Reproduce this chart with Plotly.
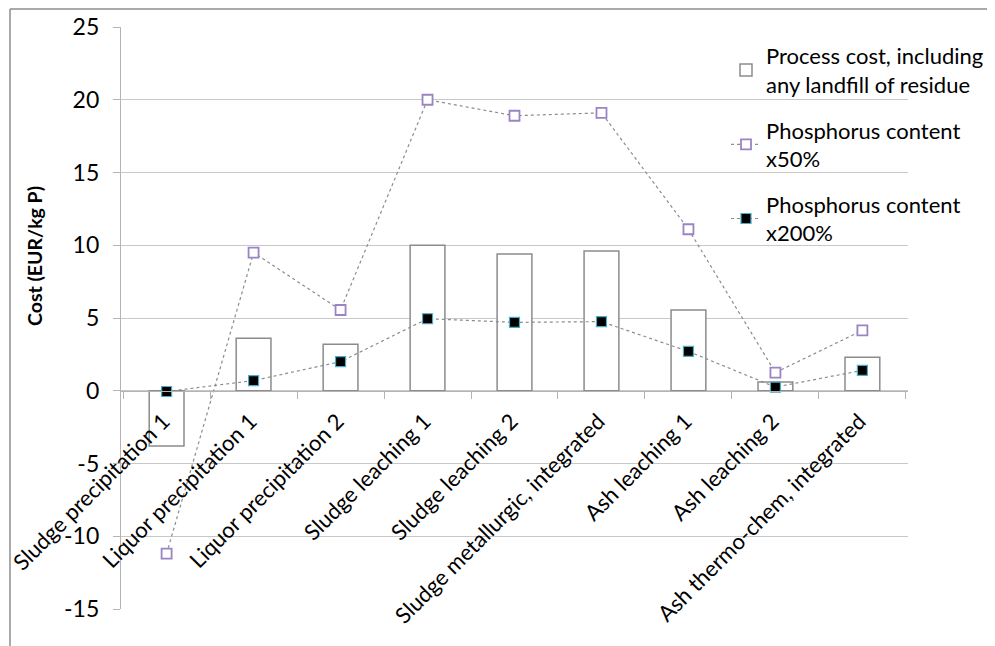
import plotly.graph_objects as go

categories = [
    "Sludge precipitation 1", "Liquor precipitation 1", "Liquor precipitation 2",
    "Sludge leaching 1", "Sludge leaching 2", "Sludge metallurgic, integrated",
    "Ash leaching 1", "Ash leaching 2", "Ash thermo-chem, integrated",
]
process_cost = [-3.8, 3.6, 3.2, 10.0, 9.4, 9.6, 5.55, 0.6, 2.3]
p_content_50 = [-11.2, 9.5, 5.55, 20.0, 18.9, 19.1, 11.1, 1.25, 4.15]
p_content_200 = [-0.05, 0.7, 2.0, 4.95, 4.7, 4.75, 2.7, 0.25, 1.4]
y_ticks = [-15, -10, -5, 0, 5, 10, 15, 20, 25]
y_ticktext = ["-15", "-10", "-5", "0", "5", "10", "15", "20", "25"]

FONT = "Lato"
GRID = "#c8c8c8"

# plot area in figure pixels
L, T, W, H = 113, 19, 787, 582

fig = go.Figure()
fig.add_trace(go.Bar(
    x=categories, y=process_cost, width=0.4,
    name="Process cost, including<br>any landfill of residue",
    marker=dict(color="white", line=dict(color="#8c8c8c", width=1.5)),
    legendgroup="a",
))
fig.add_trace(go.Scatter(
    x=categories, y=p_content_50, mode="lines+markers",
    name="Phosphorus content<br>x50%",
    line=dict(color="#8c8c8c", width=1.2, dash="dot"),
    marker=dict(symbol="square", size=10, color="white",
                line=dict(color="#9a84c4", width=1.8)),
    legendgroup="b",
))
fig.add_trace(go.Scatter(
    x=categories, y=p_content_200, mode="lines+markers",
    name="Phosphorus content<br>x200%",
    line=dict(color="#8c8c8c", width=1.2, dash="dot"),
    marker=dict(symbol="square", size=10, color="black",
                line=dict(color="#4bacc6", width=1.2)),
    legendgroup="c",
))

fig.update_layout(
    width=995, height=646,
    margin=dict(l=L, r=995 - L - W, t=T, b=646 - T - H),
    paper_bgcolor="white", plot_bgcolor="white",
    font=dict(family=FONT, size=22, color="black"),
    showlegend=True,
    legend=dict(x=(718 - L) / W, y=1 - (27 - T) / H, xanchor="left", yanchor="top",
                bgcolor="rgba(0,0,0,0)", font=dict(size=22),
                tracegroupgap=14, itemwidth=30),
    xaxis=dict(
        type="category", anchor="free", position=0.375,
        showline=True, linecolor="#b4b4b4", linewidth=1.3,
        ticks="outside", tickson="boundaries", ticklen=7, tickcolor="#b4b4b4",
        tickangle=-45, showgrid=False, automargin=False,
        ticklabelstandoff=8, ticklabelshift=-3,
        tickfont=dict(size=22),
    ),
    yaxis=dict(
        range=[-15, 25], tickvals=y_ticks, ticktext=y_ticktext,
        showline=True, linecolor="#b4b4b4", linewidth=1.3,
        ticks="outside", ticklen=7, tickcolor="#b4b4b4",
        ticklabelstandoff=9,
        gridcolor=GRID, gridwidth=1.2, zeroline=False,
        automargin=False, tickfont=dict(size=23),
    ),
    shapes=[
        dict(type="line", xref="paper", yref="paper",
             x0=(2 - L) / W, x1=1.2, y0=1 + (T - 1) / H, y1=1 + (T - 1) / H,
             line=dict(color="#8c8c8c", width=1.5)),
        dict(type="line", xref="paper", yref="paper",
             x0=(2 - L) / W, x1=(2 - L) / W, y0=-0.2, y1=1 + (T - 1) / H,
             line=dict(color="#8c8c8c", width=1.5)),
    ],
    annotations=[
        dict(text="<b>Cost (EUR/kg P)</b>", textangle=-90, xref="paper", yref="paper",
             x=(27 - L) / W, y=1 - (248 - T) / H, showarrow=False,
             font=dict(size=19.5), xanchor="center", yanchor="middle"),
    ],
)

fig.write_html("out.html")
